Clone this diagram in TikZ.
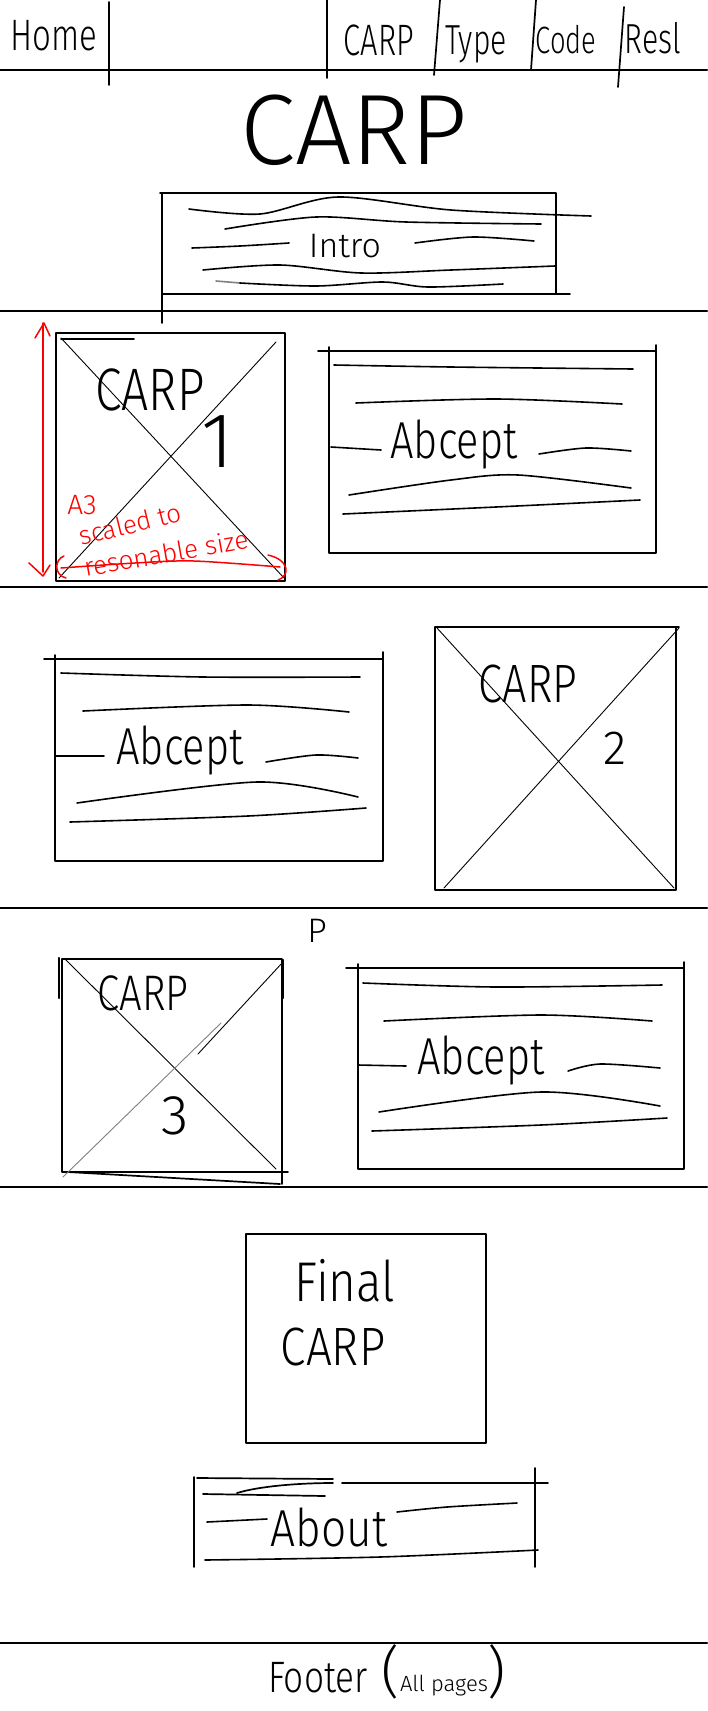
\documentclass[tikz,border=0pt]{standalone}
\usepackage{fontspec}
\newfontfamily\handfont{Fira Sans Light}
\begin{document}
\begin{tikzpicture}[x=1pt,y=-1pt,line cap=round,line join=round,
  sec/.style={line width=2.2pt},
  box/.style={draw,line width=1.7pt,inner sep=0pt,outer sep=0pt,rectangle},
  edge/.style={line width=1.7pt},
  diag/.style={line width=0.9pt},
  wave/.style={line width=1.6pt},
  hfs/.style={inner sep=0pt,font=\handfont\fontsize{#1}{#1}\selectfont},
  redink/.style={draw=red,line width=1.5pt},
  redtxt/.style={inner sep=0pt,text=red,font=\handfont\fontsize{#1}{#1}\selectfont}]
\useasboundingbox (0,0) rectangle (707,1711);
\fill[white] (0,0) rectangle (707,1711);

% ---------- section lines ----------
\draw[sec] (0,70) -- (707,70);
\draw[sec] (0,311) -- (707,311);
\draw[sec] (0,587) -- (707,587);
\draw[sec] (0,908) -- (707,908);
\draw[sec] (0,1187) -- (707,1187);
\draw[sec] (0,1643) -- (707,1643);

% ---------- nav ----------
\draw[edge] (109,2) -- (109,85);
\draw[edge] (327,0) -- (327,78);
\draw[edge] (440,0) -- (434,75);
\draw[edge] (536,0) -- (531,70);
\draw[edge] (624,7) -- (618,87);
\node[hfs=44,xscale=0.75] (home) at (54,36) {Home};
\node[hfs=44,xscale=0.7] (navcarp) at (379,40) {CARP};
\node[hfs=42,xscale=0.72] (navtype) at (476,44) {Type};
\node[hfs=38,xscale=0.72] (navcode) at (566,40) {Code};
\node[hfs=42,xscale=0.72] (navresl) at (653,38) {Resl};

% ---------- title + intro ----------
\node[hfs=100] (title) at (354,130) {CARP};
\node[box,minimum width=394pt,minimum height=101pt] (intro) at (359,243.5) {};
\draw[edge] (intro.south west) -- ++(0,29);
\draw[edge] (intro.north west) -- ++(-2,0);
\draw[edge] (intro.south east) -- ++(14,0);
\node[hfs=34] (introtxt) at (345,246) {Intro};
\draw[wave] plot[smooth] coordinates {(189,209) (260,214) (338,197) (451,210) (591,216)};
\draw[wave] plot[smooth] coordinates {(225,229) (316,217) (406,222) (541,224)};
\draw[wave] plot[smooth] coordinates {(192,248) (240,246) (289,243)};
\draw[wave] plot[smooth] coordinates {(415,243) (473,237) (534,241)};
\draw[wave] plot[smooth] coordinates {(203,270) (280,265) (361,273) (451,270) (555,266)};
\draw[wave,gray] (216,281) -- (240,283);
\draw[wave] plot[smooth] coordinates {(240,283) (316,286) (383,282) (428,287) (503,284)};

% ---------- section 2 ----------
\node[box,minimum width=229pt,minimum height=248pt] (carp1) at (170.5,457) {};
\draw[edge] (61,339) -- (134,339);
\draw[diag] (61,338) -- (284,578);
\draw[diag] (276,342) -- (59,578);
\node[hfs=60,xscale=0.8] (carp1txt) at (150,390) {CARP};
\node[hfs=78] (carp1num) at (218,442) {1};
% red annotation
\draw[redink] (43,323) -- (43,572);
\draw[redink] (35,338) -- (44,323) -- (50,336);
\draw[redink] (29,563) -- (43,576) -- (50,565);
\draw[redink] plot[smooth] coordinates {(61,568) (135,563) (194,561) (280,567)};
\draw[redink] (64,556) .. controls (54,560) and (54,575) .. (66,578);
\draw[redink] (268,555) .. controls (290,560) and (290,576) .. (278,580);
\node[redtxt=28] (a3) at (82,505) {A3};
\node[redtxt=26,rotate=14] (scaled) at (130,524) {scaled to};
\node[redtxt=26,rotate=10] (reason) at (166,553) {resonable size};

\node[box,minimum width=327pt,minimum height=202pt] (about1) at (492.5,452) {};
\draw[edge] (about1.north west) -- ++(-11,0);
\draw[edge] (about1.north west) -- ++(0,-4);
\draw[edge] (about1.north east) -- ++(0,-6);
\node[hfs=52,xscale=0.8] (abcept1) at (454,445) {Abcept};
\draw[wave] plot[smooth] coordinates {(334,365) (451,367) (633,369)};
\draw[wave] plot[smooth] coordinates {(356,403) (496,399) (622,404)};
\draw[wave] plot[smooth] coordinates {(331,447) (381,450)};
\draw[wave] plot[smooth] coordinates {(539,454) (586,448) (631,451)};
\draw[wave] plot[smooth] coordinates {(349,495) (451,480) (518,475) (631,488)};
\draw[wave] plot[smooth] coordinates {(343,514) (496,507) (640,500)};

% ---------- section 3 ----------
\node[box,minimum width=328pt,minimum height=202pt] (about2) at (219,760) {};
\draw[edge] (about2.north west) -- ++(-11,0);
\draw[edge] (about2.north west) -- ++(0,-4);
\draw[edge] (about2.north east) -- ++(0,-7);
\node[hfs=52,xscale=0.8] (abcept2) at (180,751) {Abcept};
\draw[wave] plot[smooth] coordinates {(61,673) (203,677) (360,677)};
\draw[wave] plot[smooth] coordinates {(83,711) (248,705) (349,712)};
\draw[wave] plot[smooth] coordinates {(56,756) (104,756)};
\draw[wave] plot[smooth] coordinates {(266,762) (316,755) (358,758)};
\draw[wave] plot[smooth] coordinates {(77,803) (257,782) (358,797)};
\draw[wave] plot[smooth] coordinates {(70,822) (248,816) (366,808)};

\node[box,minimum width=241pt,minimum height=263pt] (carp2) at (555.5,758.5) {};
\draw[edge] (carp2.north east) -- ++(3,0);
\draw[diag] (437,628) -- (674,888);
\draw[diag] (679,628) -- (444,888);
\node[hfs=54,xscale=0.8] (carp2txt) at (528,684) {CARP};
\node[hfs=48] (carp2num) at (615,748) {2};

% ---------- section 4 ----------
\node[hfs=34] (p) at (317,931) {P};
\node[box,minimum width=220pt,minimum height=213pt] (carp3) at (172,1065.5) {};
\draw[line width=2.4pt] (59,958) -- (59,998);
\draw[line width=2.4pt] (283,960) -- (283,998);
\draw[edge] (carp3.south east) -- ++(6,0);
\draw[edge] (68,1172) -- (280,1184);
\draw[edge] (carp3.south east) -- ++(0,12);
\draw[diag] (65,959) -- (276,1169);
\draw[diag] (283,962) -- (198,1054);
\draw[diag,gray] (221,1023) -- (63,1177);
\node[hfs=50,xscale=0.8] (carp3txt) at (143,993) {CARP};
\node[hfs=56] (carp3num) at (175,1116) {3};

\node[box,minimum width=326pt,minimum height=201pt] (about3) at (521,1068.5) {};
\draw[edge] (about3.north west) -- ++(-12,0);
\draw[edge] (about3.north west) -- ++(0,-4);
\draw[edge] (about3.north east) -- ++(0,-6);
\node[hfs=52,xscale=0.8] (abcept3) at (481,1060) {Abcept};
\draw[wave] plot[smooth] coordinates {(363,983) (496,987) (662,985)};
\draw[wave] plot[smooth] coordinates {(384,1021) (541,1015) (652,1021)};
\draw[wave] plot[smooth] coordinates {(358,1065) (406,1066)};
\draw[wave] plot[smooth] coordinates {(568,1071) (600,1064) (660,1068)};
\draw[wave] plot[smooth] coordinates {(379,1112) (541,1092) (660,1106)};
\draw[wave] plot[smooth] coordinates {(372,1131) (541,1125) (667,1118)};

% ---------- section 5 ----------
\node[box,minimum width=240pt,minimum height=209pt] (final) at (366,1338.5) {};
\node[hfs=56,xscale=0.85] (finaltxt) at (345,1281) {Final};
\node[hfs=54,xscale=0.85] (finalcarp) at (333,1347) {CARP};

\draw[edge] (194,1477) -- (194,1567);
\draw[edge] (535,1468) -- (535,1567);
\draw[edge] (197,1478) -- (333,1479);
\draw[edge] (342,1483) -- (548,1483);
\draw[edge] (203,1494) -- (325,1496);
\draw[edge] (237,1493) .. controls (260,1486) and (300,1483) .. (333,1483);
\draw[wave] (207,1522) -- (267,1519);
\node[hfs=52,xscale=0.85] (about4) at (329,1527) {About};
\draw[wave] plot[smooth] coordinates {(397,1512) (447,1507) (517,1503)};
\draw[wave] plot[smooth] coordinates {(205,1560) (380,1557) (538,1550)};

% ---------- footer ----------
\node[hfs=44,xscale=0.8] (footer) at (318,1678) {Footer};
\node[inner sep=0pt,font=\handfont] (allpages) at (444,1672)
  {{\fontsize{56}{56}\selectfont(}{\fontsize{22}{22}\selectfont All pages}{\fontsize{56}{56}\selectfont)}};
\end{tikzpicture}
\end{document}
